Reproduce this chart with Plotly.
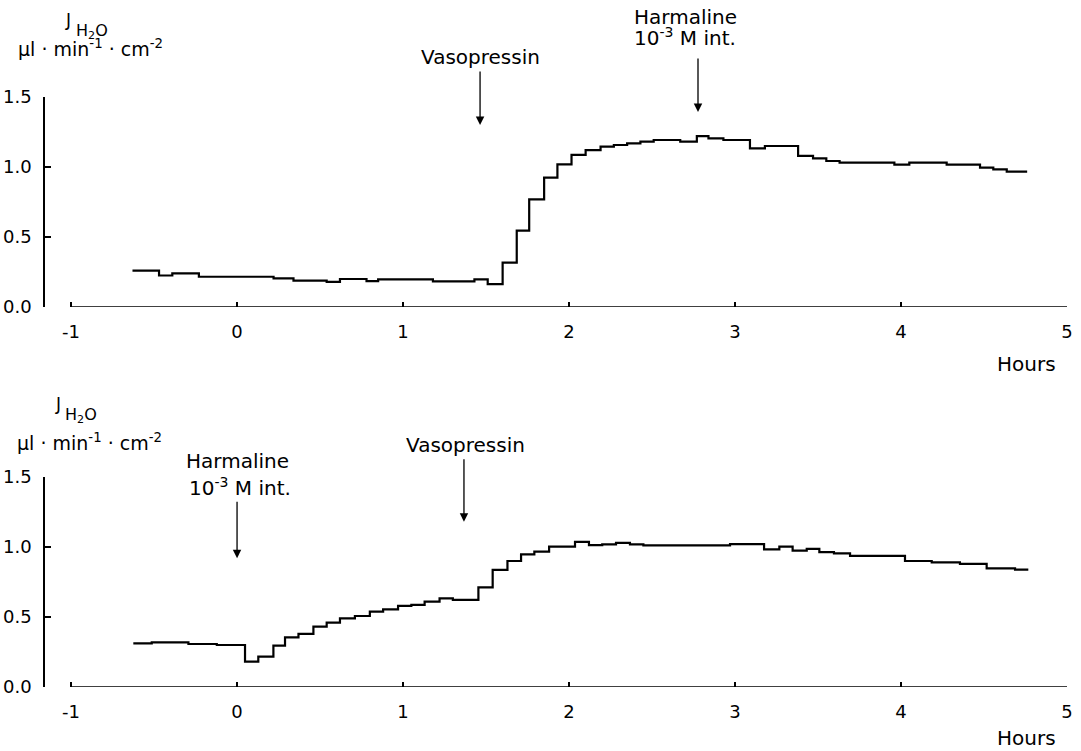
import plotly.graph_objects as go

# ---- data (hours, J_H2O in µl·min^-1·cm^-2), step starts ----
top_hours = [-0.63, -0.47, -0.39, -0.23, 0.22, 0.34, 0.54, 0.62, 0.78, 0.85,
             1.18, 1.43, 1.51, 1.60, 1.685, 1.76, 1.85, 1.93, 2.015, 2.10,
             2.19, 2.27, 2.35, 2.43, 2.51, 2.67, 2.77, 2.84, 2.93, 3.09,
             3.18, 3.38, 3.47, 3.55, 3.63, 3.96, 4.05, 4.275, 4.476, 4.556,
             4.637, 4.76]
top_flux = [0.26, 0.225, 0.24, 0.216, 0.205, 0.188, 0.18, 0.20, 0.185, 0.197,
            0.183, 0.197, 0.164, 0.317, 0.545, 0.769, 0.924, 1.019, 1.086, 1.121,
            1.145, 1.157, 1.169, 1.181, 1.193, 1.181, 1.221, 1.205, 1.193, 1.133,
            1.15, 1.079, 1.062, 1.043, 1.031, 1.017, 1.031, 1.017, 0.995, 0.983,
            0.967, 0.967]

bot_hours = [-0.625, -0.514, -0.293, -0.122, 0.048, 0.128, 0.219, 0.289, 0.37, 0.46,
             0.54, 0.62, 0.71, 0.80, 0.88, 0.97, 1.05, 1.13, 1.22, 1.30,
             1.454, 1.54, 1.629, 1.711, 1.791, 1.88, 2.036, 2.12, 2.20, 2.283,
             2.367, 2.448, 2.97, 3.175, 3.267, 3.347, 3.432, 3.508, 3.596, 3.693,
             4.024, 4.185, 4.355, 4.516, 4.687, 4.767]
bot_flux = [0.312, 0.319, 0.307, 0.300, 0.181, 0.217, 0.295, 0.355, 0.379, 0.431,
            0.46, 0.49, 0.507, 0.538, 0.555, 0.579, 0.586, 0.61, 0.633, 0.622,
            0.712, 0.836, 0.90, 0.948, 0.967, 1.002, 1.036, 1.014, 1.019, 1.029,
            1.019, 1.012, 1.021, 0.983, 1.002, 0.974, 0.986, 0.964, 0.955, 0.936,
            0.90, 0.89, 0.879, 0.848, 0.838, 0.838]

x_ticks = [-1, 0, 1, 2, 3, 4, 5]
x_ticktext = ["-1", "0", "1", "2", "3", "4", "5"]
y_ticks = [0, 0.5, 1.0, 1.5]
y_ticktext = ["0.0", "0.5", "1.0", "1.5"]

# event markers: (hour, arrow tip value)
top_events = {"vaso": (1.464, 1.30), "harm": (2.777, 1.393)}
bot_events = {"harm": (0.0, 0.92), "vaso": (1.367, 1.18)}

W, H = 1081, 751
ML, MR = 45, 14
FONT = "DejaVu Sans"

def px(xp):
    return (xp - ML) / (W - ML - MR)

def py(yp):
    return (H - yp) / H

fig = go.Figure()
fig.add_trace(go.Scatter(x=top_hours, y=top_flux, mode="lines",
                         line=dict(shape="hv", color="black", width=2.2),
                         xaxis="x", yaxis="y", showlegend=False))
fig.add_trace(go.Scatter(x=bot_hours, y=bot_flux, mode="lines",
                         line=dict(shape="hv", color="black", width=2.2),
                         xaxis="x2", yaxis="y2", showlegend=False))

xcommon = dict(range=[-1.157, 5.0], tickvals=x_ticks, ticktext=x_ticktext,
               ticks="inside", ticklen=5, tickwidth=1.5, tickcolor="black",
               showline=False, showgrid=False, zeroline=False,
               ticklabelstandoff=12, automargin=False,
               tickfont=dict(family=FONT, size=18, color="black"))
ycommon = dict(range=[0, 1.5], tickvals=y_ticks, ticktext=y_ticktext,
               ticks="inside", ticklen=6, tickwidth=1.5, tickcolor="black",
               showline=True, linewidth=1.5, linecolor="black",
               showgrid=False, zeroline=False, ticklabelstandoff=8,
               automargin=False,
               tickfont=dict(family=FONT, size=18, color="black"))

fig.update_layout(
    width=W, height=H,
    margin=dict(l=ML, r=MR, t=0, b=0, autoexpand=False),
    paper_bgcolor="white", plot_bgcolor="white",
    font=dict(family=FONT, color="black"),
    xaxis=dict(**xcommon, domain=[0, 1], anchor="y"),
    yaxis=dict(**ycommon, domain=[py(307), py(97)], anchor="x"),
    xaxis2=dict(**xcommon, domain=[0, 1], anchor="y2"),
    yaxis2=dict(**ycommon, domain=[py(687), py(477)], anchor="x2"),
)

# x-axis baselines from -1 to 5
for xr, yr in (("x", "y"), ("x2", "y2")):
    fig.add_shape(type="line", xref=xr, yref=yr, x0=-1, x1=5, y0=0, y1=0,
                  line=dict(color="black", width=1.5))

def text(xp, yp, s, size=20, anchor="center"):
    fig.add_annotation(xref="paper", yref="paper", x=px(xp), y=py(yp), text=s,
                       showarrow=False, xanchor=anchor, yanchor="middle",
                       font=dict(family=FONT, size=size, color="black"))

def arrow(xr, yr, hx, val, length):
    fig.add_annotation(xref=xr, yref=yr, x=hx, y=val, ax=0, ay=-length, text="",
                       showarrow=True, arrowhead=2, arrowsize=1.3, arrowwidth=1.3,
                       arrowcolor="black")

UNITS = "µl · min<sup>-1</sup> · cm<sup>-2</sup>"

# top panel
text(63, 20, "J", size=17, anchor="left")
text(74, 32, "H<sub>2</sub>O", size=16, anchor="left")
text(16, 48, UNITS, size=19, anchor="left")
text(480, 57, "Vasopressin")
arrow("x", "y", *top_events["vaso"], 55)
text(685, 17, "Harmaline")
text(685, 37, "10<sup>-3</sup> M int.")
arrow("x", "y", *top_events["harm"], 55)
text(1026, 364, "Hours")

# bottom panel
text(53, 404, "J", size=17, anchor="left")
text(63, 416, "H<sub>2</sub>O", size=16, anchor="left")
text(15, 442, UNITS, size=19, anchor="left")
text(237, 461, "Harmaline")
text(240, 487, "10<sup>-3</sup> M int.")
arrow("x2", "y2", *bot_events["harm"], 58)
text(465, 445, "Vasopressin")
arrow("x2", "y2", *bot_events["vaso"], 64)
text(1026, 738, "Hours")

fig.write_html("out.html", config={"displayModeBar": False},
               post_script="document.body.style.margin='0px';document.body.style.padding='0px';")
